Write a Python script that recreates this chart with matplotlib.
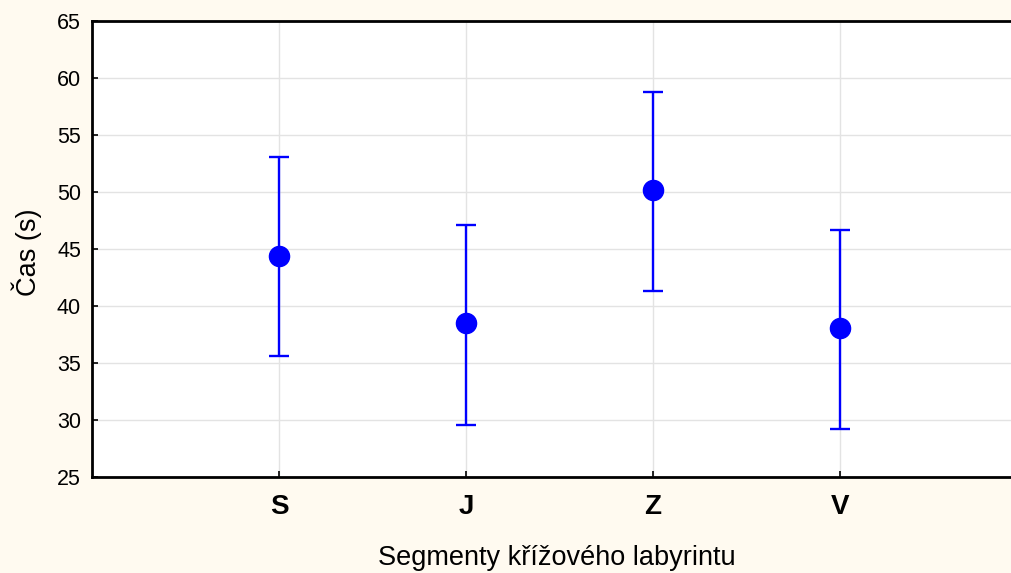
import numpy as np
import matplotlib.pyplot as plt

plt.rcParams['font.family'] = ['Liberation Sans', 'DejaVu Sans']

segments = ['S', 'J', 'Z', 'V']
means = [44.4, 38.5, 50.2, 38.1]
upper = [53.1, 47.1, 58.8, 46.7]
lower = [35.6, 29.6, 41.3, 29.2]

bg = '#FFFAF0'
fig = plt.figure(figsize=(10.12, 5.73), dpi=100, facecolor=bg)
ax = fig.add_axes([92 / 1012, 1 - 477 / 573, 935 / 1012, 456 / 573])

x = np.arange(1, len(segments) + 1)
m = np.array(means)
yerr = [m - np.array(lower), np.array(upper) - m]
ax.errorbar(x, m, yerr=yerr, fmt='o', color='#0000FF', ms=14.5, elinewidth=1.7,
            capsize=7, capthick=1.7, zorder=3)

ax.set_xlim(0, 5)
ax.set_ylim(25, 65)
ax.set_yticks(np.arange(25, 66, 5))
ax.set_xticks(x)
ax.set_xticklabels(segments, fontsize=20, fontweight='bold')
ax.tick_params(axis='y', labelsize=15.5, direction='in', length=4, width=1.2, pad=8)
ax.tick_params(axis='x', direction='in', length=4, width=1.2, pad=12)
ax.grid(True, color='#E3E3E3', lw=1)
ax.set_axisbelow(True)
for s in ax.spines.values():
    s.set_linewidth(2)
ax.spines['right'].set_visible(False)

ax.set_ylabel('Čas (s)', fontsize=19.5)
ax.yaxis.set_label_coords(-50 / 935, 0.493)
ax.set_xlabel('Segmenty křížového labyrintu', fontsize=19.5)
ax.xaxis.set_label_coords((557 - 92) / 935, -68 / 456)

fig.savefig('out.png', dpi=100, facecolor=bg)
